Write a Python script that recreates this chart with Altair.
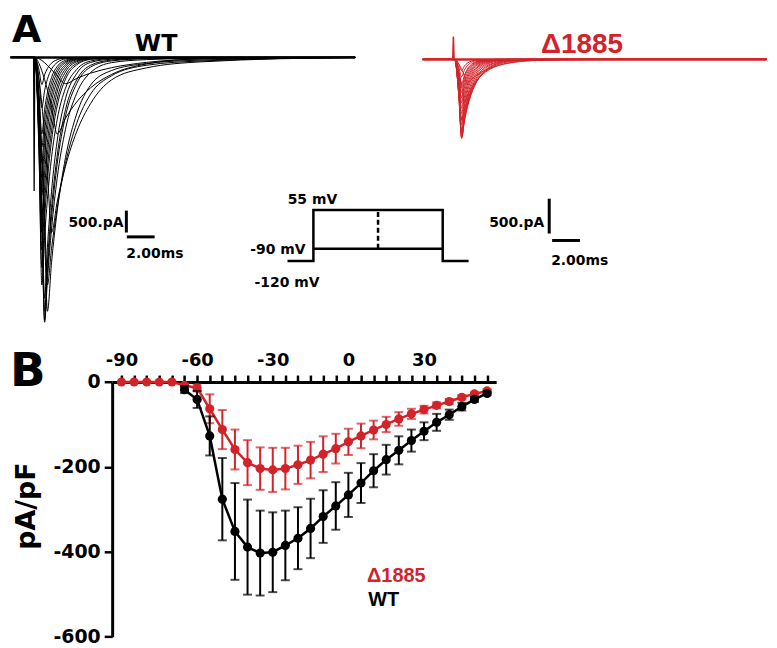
import altair as alt
import pandas as pd

RED = "#d2232a"
AXIS_FONT = "DejaVu Sans"
TEXT_FONT = "Liberation Sans"

# ---------------- Panel B data: I-V relationship (pA/pF) ----------------
iv_voltage = list(range(-90, 60, 5))          # step potentials, mV
mut_mean = [0, 0, 0, 0, 0, -8, -14, -63, -112, -159, -190, -204, -207, -204, -195,
            -184, -170, -157, -141, -127, -113, -100, -87, -75, -65, -55, -46, -36, -28, -21]
mut_sem = [0, 0, 0, 0, 0, 4, 8, 34, 46, 47, 53, 50, 52, 49, 45,
           43, 42, 35, 31, 29, 22, 18, 16, 12, 9, 7, 6, 5, 4, 4]
wt_voltage = list(range(-65, 60, 5))
wt_mean = [-18, -41, -127, -276, -352, -389, -403, -401, -385, -368, -345, -317, -292,
           -266, -238, -209, -183, -161, -138, -116, -95, -77, -58, -41, -27]
wt_sem = [8, 20, 46, 97, 114, 112, 100, 94, 82, 73, 70, 62, 56,
          52, 47, 39, 35, 33, 26, 21, 20, 12, 9, 6, 4]
x_ticks = list(range(-90, 60, 5))
y_ticks = [0, -200, -400, -600]

# ---------------- Panel A data: current traces (pA) ----------------
trace_times = [0.0, 0.3, 0.5, 0.7, 0.9, 1.2, 1.6, 2.2, 3.0, 4.0, 5.5, 8.0, 12.0]   # ms after step onset
wt_window = [-1.75, 23.0]
mut_window = [-2.3, 22.4]

wt_steps = [-60, -55, -50, -45, -40, -35, -30, -25, -20, -15, -10, -5, 0, 5, 10, 15, 20, 25, 30, 40, 50]
wt_currents = [
    [0, -30, -70, -120, -180, -280, -420, -600, -480, -360, -235, -114, -37],
    [0, -140, -305, -505, -740, -1135, -1750, -1390, -1020, -695, -390, -150, -30],
    [0, -500, -1075, -1780, -2600, -4000, -3305, -2485, -1700, -1055, -515, -240, -100],
    [0, -1000, -2140, -3570, -5200, -4360, -3450, -2420, -1510, -840, -420, -180, -80],
    [0, -1115, -2380, -3980, -5800, -4680, -3520, -2290, -1295, -633, -300, -140, -60],
    [0, -1700, -3650, -6050, -5080, -3915, -2765, -1640, -820, -345, -120, -50, -20],
    [0, -1680, -3600, -6000, -4910, -3640, -2440, -1340, -600, -220, -80, -30, -10],
    [0, -1624, -3480, -5800, -4700, -3428, -2250, -1195, -516, -180, -60, -20, -5],
    [0, -1540, -3300, -5500, -4350, -3055, -1910, -940, -370, -115, -40, -15, -5],
    [0, -2080, -5200, -4110, -3250, -2283, -1425, -702, -276, -83, -25, -8, 0],
    [0, -2230, -4800, -3680, -2815, -1890, -1110, -497, -170, -45, -15, -5, 0],
    [0, -2050, -4400, -3330, -2525, -1665, -955, -415, -136, -35, -10, 0, 0],
    [0, -1860, -4000, -2980, -2220, -1430, -790, -330, -100, -25, -8, 0, 0],
    [0, -1675, -3600, -2645, -1945, -1226, -663, -262, -78, -18, 0, 0, 0],
    [0, -1465, -3150, -2280, -1650, -1017, -537, -204, -56, -12, 0, 0, 0],
    [0, -1280, -2750, -1970, -1412, -856, -440, -162, -42, -9, 0, 0, 0],
    [0, -1115, -2400, -1690, -1190, -703, -348, -122, -30, -6, 0, 0, 0],
    [0, -955, -2050, -1425, -990, -574, -277, -94, -22, 0, 0, 0, 0],
    [0, -815, -1750, -1190, -810, -455, -210, -66, -15, 0, 0, 0, 0],
    [0, -535, -1150, -760, -500, -267, -116, -33, -7, 0, 0, 0, 0],
    [0, -290, -620, -398, -255, -130, -53, -14, 0, 0, 0, 0, 0],
]
mut_steps = [-55, -50, -45, -40, -35, -30, -25, -20, -15, -10, -5, 0, 5, 10, 15, 20, 25, 30, 40, 50]
mut_currents = [
    [0, -66, -141, -237, -345, -286, -223, -153, -93, -50, -19, -5, 0],
    [0, -172, -369, -615, -524, -412, -299, -185, -98, -44, -13, -3, 0],
    [0, -407, -875, -723, -598, -449, -307, -173, -81, -31, -8, -2, 0],
    [0, -486, -1045, -841, -676, -488, -316, -165, -69, -23, -5, 0, 0],
    [0, -521, -1120, -885, -700, -491, -307, -152, -59, -18, -4, 0, 0],
    [0, -528, -1135, -879, -680, -463, -277, -128, -47, -12, -3, 0, 0],
    [0, -521, -1120, -851, -647, -429, -248, -109, -40, -10, -2, 0, 0],
    [0, -500, -1075, -801, -597, -384, -213, -88, -27, -6, 0, 0, 0],
    [0, -470, -1010, -739, -541, -338, -181, -71, -21, -5, 0, 0, 0],
    [0, -435, -935, -670, -480, -291, -150, -55, -15, -3, 0, 0, 0],
    [0, -402, -865, -609, -429, -253, -125, -44, -12, -2, 0, 0, 0],
    [0, -360, -775, -539, -375, -217, -105, -36, -9, -2, 0, 0, 0],
    [0, -326, -700, -476, -324, -182, -84, -27, -7, 0, 0, 0, 0],
    [0, -288, -620, -416, -279, -153, -69, -21, -5, 0, 0, 0, 0],
    [0, -256, -550, -363, -239, -128, -55, -16, -4, 0, 0, 0, 0],
    [0, -223, -480, -311, -201, -105, -44, -12, -3, 0, 0, 0, 0],
    [0, -191, -410, -260, -165, -84, -34, -9, 0, 0, 0, 0, 0],
    [0, -167, -360, -226, -142, -70, -28, -7, 0, 0, 0, 0, 0],
    [0, -116, -250, -152, -92, -43, -16, -4, 0, 0, 0, 0, 0],
    [0, -74, -160, -95, -56, -25, -9, -2, 0, 0, 0, 0, 0],
]
wt_artifact_t = [-0.09, -0.05, -0.01]
wt_artifact_i = [0, -3050, 0]
mut_artifact_t = [-0.14, -0.09, -0.04]
mut_artifact_i = [0, 330, 0]

# voltage protocol (schematic)
proto_t = [-5, 0, 0, 25, 25, 30]
proto_v = [-120, -120, 55, 55, -120, -120]
proto_mid_t = [0, 25]
proto_mid_v = [-90, -90]
proto_dash_t = [12.5, 12.5]
proto_dash_v = [-90, 55]


def traces_frame(steps, currents, window):
    rows = []
    for s, vals in zip(steps, currents):
        rows.append({"step": s, "t": window[0], "I": 0})
        for t, v in zip(trace_times, vals):
            rows.append({"step": s, "t": t, "I": v})
        rows.append({"step": s, "t": window[1], "I": 0})
    return pd.DataFrame(rows)


def qs(domain, rng):
    return alt.Scale(domain=domain, range=rng, nice=False, zero=False)


def X(f, s):
    return alt.X(f, type="quantitative", scale=s, axis=None)


def Y(f, s):
    return alt.Y(f, type="quantitative", scale=s, axis=None)


def label(txt, t, i, sx, sy, size, font=TEXT_FONT, color="black", align="left",
          baseline="alphabetic", dx=0, dy=0):
    df = pd.DataFrame({"t": [t], "I": [i], "txt": [txt]})
    return alt.Chart(df).mark_text(align=align, baseline=baseline, font=font, fontSize=size,
                                   fontWeight="bold", color=color, dx=dx, dy=dy).encode(
        x=X("t", sx), y=Y("I", sy), text="txt:N")


def bar_v(t, i1, i2, sx, sy, color):
    df = pd.DataFrame({"t": [t], "I": [i1], "I2": [i2]})
    return alt.Chart(df).mark_rule(color=color, strokeWidth=3).encode(
        x=X("t", sx), y=Y("I", sy), y2="I2")


def bar_h(t1, t2, i, sx, sy, color, width=3):
    df = pd.DataFrame({"t": [t1], "t2": [t2], "I": [i]})
    return alt.Chart(df).mark_rule(color=color, strokeWidth=width).encode(
        x=X("t", sx), x2="t2", y=Y("I", sy))


W, H = 761, 632
wt_x = qs([-1.7857, 52.5714], [0, 761])
wt_y = qs([-6340.9, 1090.9], [327, 0])
mut_x = qs([-31.929, 22.429], [0, 761])
mut_y = qs([-3957.1, 714.3], [327, 0])
pro_x = qs([-58.654, 87.692], [0, 761])
pro_y = qs([-120, -90, 55], [252.7, 240.3, 201.3])
bx = qs([-93.7, 58.6], [102.7, 488.7])
by = qs([-600, 0], [630.3, 374.3])

# ---- WT traces group ----
wt_df = traces_frame(wt_steps, wt_currents, wt_window)
wt_group = alt.layer(
    bar_h(wt_window[0], wt_window[1], 0, wt_x, wt_y, "black", 2.5),
    alt.Chart(wt_df).mark_line(color="black", strokeWidth=1, interpolate="monotone").encode(
        x=X("t", wt_x), y=Y("I", wt_y), detail="step:N"),
    alt.Chart(pd.DataFrame({"t": wt_artifact_t, "I": wt_artifact_i})).mark_line(
        color="black", strokeWidth=1.3).encode(x=X("t", wt_x), y=Y("I", wt_y)),
    bar_v(6.57, -3500, -4000, wt_x, wt_y, "black"),
    bar_h(6.6, 8.6, -4100, wt_x, wt_y, "black"),
    label("A", -1.65, 1045, wt_x, wt_y, 38, font=AXIS_FONT, baseline="top"),
    label("WT", 8.71, 136, wt_x, wt_y, 24, font=AXIS_FONT, align="center"),
    label("500.pA", 6.36, -3864, wt_x, wt_y, 14, font=AXIS_FONT, align="right"),
    label("2.00ms", 6.57, -4591, wt_x, wt_y, 14, font=AXIS_FONT),
)

# ---- Δ1885 traces group ----
mut_df = traces_frame(mut_steps, mut_currents, mut_window)
mut_group = alt.layer(
    bar_h(mut_window[0], mut_window[1], 0, mut_x, mut_y, RED, 2.5),
    alt.Chart(mut_df).mark_line(color=RED, strokeWidth=1, interpolate="monotone").encode(
        x=X("t", mut_x), y=Y("I", mut_y), detail="step:N"),
    alt.Chart(pd.DataFrame({"t": mut_artifact_t, "I": mut_artifact_i})).mark_line(
        color=RED, strokeWidth=1.5).encode(x=X("t", mut_x), y=Y("I", mut_y)),
    bar_v(6.79, -2000, -2500, mut_x, mut_y, "black"),
    bar_h(7.0, 9.0, -2600, mut_x, mut_y, "black"),
    label("Δ1885", 9.14, 86, mut_x, mut_y, 28, color=RED, align="center"),
    label("500.pA", 6.43, -2410, mut_x, mut_y, 14, font=AXIS_FONT, align="right"),
    label("2.00ms", 6.93, -2957, mut_x, mut_y, 14, font=AXIS_FONT),
)

# ---- voltage protocol group ----
proto_df = pd.DataFrame({"t": proto_t, "I": proto_v, "i": list(range(len(proto_t)))})
proto_group = alt.layer(
    alt.Chart(proto_df).mark_line(color="black", strokeWidth=2.5).encode(
        x=X("t", pro_x), y=Y("I", pro_y), order="i:Q"),
    alt.Chart(pd.DataFrame({"t": proto_mid_t, "I": proto_mid_v})).mark_line(
        color="black", strokeWidth=2.5).encode(x=X("t", pro_x), y=Y("I", pro_y)),
    alt.Chart(pd.DataFrame({"t": proto_dash_t, "I": proto_dash_v, "i": [0, 1]})).mark_line(
        color="black", strokeWidth=2.5, strokeDash=[5, 3]).encode(
        x=X("t", pro_x), y=Y("I", pro_y), order="i:Q"),
    label("55 mV", -0.19, 55, pro_x, pro_y, 14, font=AXIS_FONT, align="center", dy=-6),
    label("-90 mV", -1.54, -90, pro_x, pro_y, 14, font=AXIS_FONT, align="right", dy=5.7),
    label("-120 mV", -5.1, -120, pro_x, pro_y, 14, font=AXIS_FONT, align="center", dy=26),
)

# ---------------- Panel B ----------------
x_axis = alt.Axis(orient="top", offset=-374.3, values=x_ticks,
                  labelExpr="datum.value % 30 == 0 ? '' + datum.value : ''",
                  tickSize=7, tickWidth=2.5, tickColor="black", domainWidth=3, domainColor="black",
                  labelFont=AXIS_FONT, labelFontWeight="bold", labelFontSize=18, labelColor="black",
                  labelPadding=6, labelFlush=False, labelOverlap=False, grid=False, title=None)
y_axis = alt.Axis(orient="left", offset=-102.7, values=y_ticks, labelExpr="'' + datum.value",
                  tickSize=8, tickWidth=2.5, tickColor="black", domainWidth=3, domainColor="black",
                  labelFont=AXIS_FONT, labelFontWeight="bold", labelFontSize=19, labelColor="black",
                  labelPadding=4, labelFlush=False, labelOverlap=False, grid=False, title=None)


def BX(f):
    return alt.X(f, type="quantitative", scale=bx, axis=x_axis)


def BY(f):
    return alt.Y(f, type="quantitative", scale=by, axis=y_axis)


def iv_frame(v, m, s):
    df = pd.DataFrame({"v": v, "m": m, "s": s})
    df["lo"] = df["m"] - df["s"]
    df["hi"] = df["m"] + df["s"]
    return df


def series_layers(df, color):
    err = df[df["s"] > 0]
    return [
        alt.Chart(df).mark_line(color=color, strokeWidth=2.5).encode(x=BX("v"), y=BY("m")),
        alt.Chart(err).mark_rule(color=color, strokeWidth=2).encode(x=BX("v"), y=BY("lo"), y2="hi"),
        alt.Chart(err).mark_tick(color=color, orient="horizontal", size=9, thickness=2).encode(
            x=BX("v"), y=BY("lo")),
        alt.Chart(err).mark_tick(color=color, orient="horizontal", size=9, thickness=2).encode(
            x=BX("v"), y=BY("hi")),
        alt.Chart(df).mark_circle(color=color, size=85, opacity=1).encode(x=BX("v"), y=BY("m")),
    ]


mut_iv = iv_frame(iv_voltage, mut_mean, mut_sem)
wt_iv = iv_frame(wt_voltage, wt_mean, wt_sem)


def b_label(txt, v, y, color, size=20):
    df = pd.DataFrame({"v": [v], "m": [y], "txt": [txt]})
    return alt.Chart(df).mark_text(align="left", baseline="alphabetic", font=TEXT_FONT,
                                   fontSize=size, fontWeight="bold", color=color).encode(
        x=BX("v"), y=BY("m"), text="txt:N")


panel_letter_b = alt.Chart(pd.DataFrame({"txt": ["B"]})).mark_text(
    align="left", baseline="alphabetic", font=AXIS_FONT, fontSize=47, fontWeight="bold",
    color="black").encode(x=alt.value(0), y=alt.value(378), text="txt:N")
y_title = alt.Chart(pd.DataFrame({"txt": ["pA/pF"]})).mark_text(
    align="center", baseline="middle", font=AXIS_FONT, fontSize=27, fontWeight="bold",
    color="black", angle=270).encode(x=alt.value(17), y=alt.value(499), text="txt:N")

panel_b = alt.layer(
    *series_layers(mut_iv, RED),
    *series_layers(wt_iv, "black"),
    b_label("Δ1885", 7.4, -471, RED),
    b_label("WT", 7.9, -527, "black"),
)

chart = alt.layer(wt_group, mut_group, proto_group, panel_b, panel_letter_b, y_title).resolve_scale(
    x="independent", y="independent").properties(width=W, height=H, padding=0).configure_view(stroke=None)
chart.save("out.html", embed_options={"renderer": "svg", "actions": False})
